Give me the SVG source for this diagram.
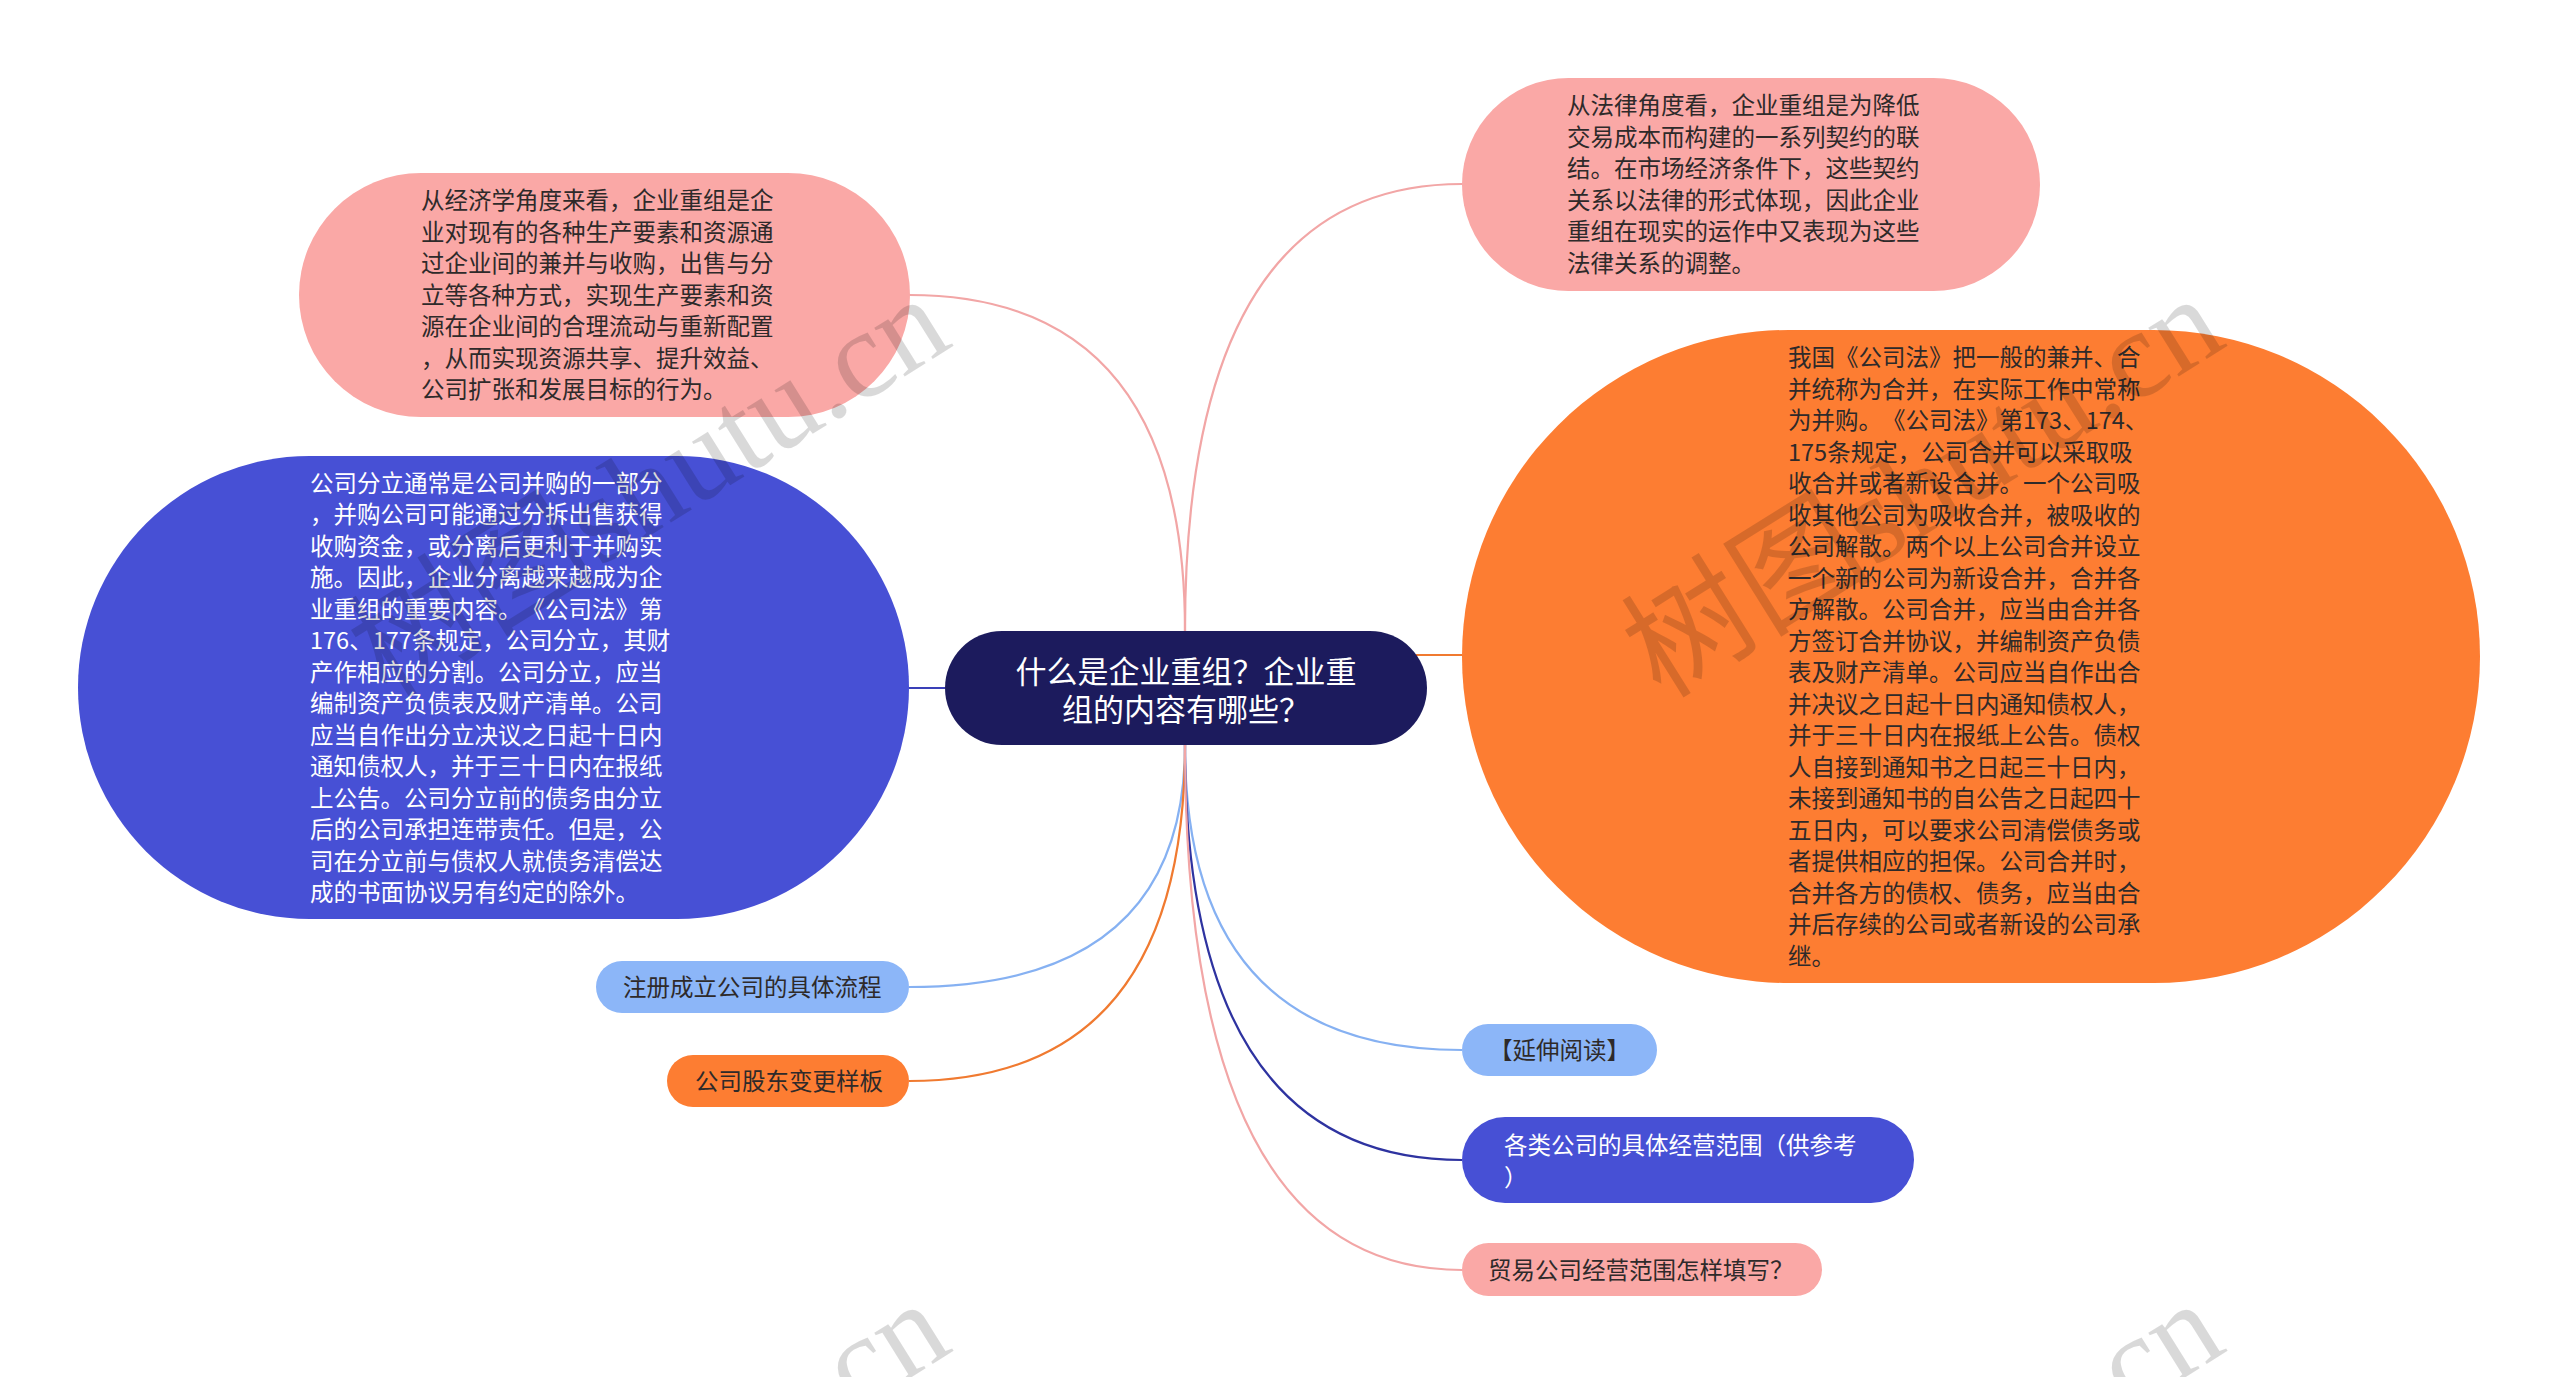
<svg xmlns="http://www.w3.org/2000/svg" width="2560" height="1377" viewBox="0 0 2560 1377">
<style>
.t{font-family:"Noto Sans CJK SC","Liberation Sans",sans-serif;font-size:23.5px;font-feature-settings:"chws" 0,"halt" 0,"palt" 0;text-spacing-trim:space-all;}
.dk{fill:#2e2a2a;}
.wt{fill:#ffffff;}
.title{font-family:"Noto Sans CJK SC","Liberation Sans",sans-serif;font-size:31px;fill:#ffffff;font-feature-settings:"chws" 0;text-spacing-trim:space-all;}
.c{fill:none;stroke-width:2.2;}
.wm{font-family:"Liberation Serif","Noto Sans CJK SC",serif;font-size:125px;fill:#000;fill-opacity:0.15;}
</style>
<rect width="2560" height="1377" fill="#ffffff"/>
<g id="connectors">
<path class="c" stroke="#F2A6A6" d="M909 295 Q1185 295 1185 631"/>
<path class="c" stroke="#F2A6A6" d="M1462 184 Q1185 184 1185 631"/>
<path class="c" stroke="#3A40B8" d="M909 688 L945 688"/>
<path class="c" stroke="#F07A30" d="M1416 655 L1462 655"/>
<path class="c" stroke="#86B1F2" d="M909 987 Q1185 987 1185 745"/>
<path class="c" stroke="#F07A30" d="M909 1081 Q1185 1081 1185 745"/>
<path class="c" stroke="#86B1F2" d="M1462 1050 Q1185 1050 1185 745"/>
<path class="c" stroke="#2E33A0" d="M1462 1160 Q1185 1160 1185 745"/>
<path class="c" stroke="#F2A6A6" d="M1462 1270 Q1185 1270 1185 745"/>
</g>
<g id="node-center">
<rect x="945" y="631" width="482" height="114" rx="57" fill="#1C1B5D"/>
<text class="title" text-anchor="middle"><tspan x="1186" y="683">什么是企业重组？企业重</tspan><tspan x="1186" y="721">组的内容有哪些？</tspan></text>
</g>
<g id="node-econ">
<rect x="299" y="173" width="611" height="244" rx="122" fill="#FAA8A6"/>
<text class="t dk"><tspan x="421" y="209">从经济学角度来看，企业重组是企</tspan><tspan x="421" dy="31.5">业对现有的各种生产要素和资源通</tspan><tspan x="421" dy="31.5">过企业间的兼并与收购，出售与分</tspan><tspan x="421" dy="31.5">立等各种方式，实现生产要素和资</tspan><tspan x="421" dy="31.5">源在企业间的合理流动与重新配置</tspan><tspan x="421" dy="31.5">，从而实现资源共享、提升效益、</tspan><tspan x="421" dy="31.5">公司扩张和发展目标的行为。</tspan></text>
</g>
<g id="node-legal">
<rect x="1462" y="78" width="578" height="213" rx="106.5" fill="#FAA8A6"/>
<text class="t dk"><tspan x="1567" y="114">从法律角度看，企业重组是为降低</tspan><tspan x="1567" dy="31.5">交易成本而构建的一系列契约的联</tspan><tspan x="1567" dy="31.5">结。在市场经济条件下，这些契约</tspan><tspan x="1567" dy="31.5">关系以法律的形式体现，因此企业</tspan><tspan x="1567" dy="31.5">重组在现实的运作中又表现为这些</tspan><tspan x="1567" dy="31.5">法律关系的调整。</tspan></text>
</g>
<g id="node-split">
<rect x="78" y="456" width="831" height="463" rx="231.5" fill="#4750D5"/>
<text class="t wt"><tspan x="310" y="491.5">公司分立通常是公司并购的一部分</tspan><tspan x="310" dy="31.5">，并购公司可能通过分拆出售获得</tspan><tspan x="310" dy="31.5">收购资金，或分离后更利于并购实</tspan><tspan x="310" dy="31.5">施。因此，企业分离越来越成为企</tspan><tspan x="310" dy="31.5">业重组的重要内容。《公司法》第</tspan><tspan x="310" dy="31.5">176、177条规定，公司分立，其财</tspan><tspan x="310" dy="31.5">产作相应的分割。公司分立，应当</tspan><tspan x="310" dy="31.5">编制资产负债表及财产清单。公司</tspan><tspan x="310" dy="31.5">应当自作出分立决议之日起十日内</tspan><tspan x="310" dy="31.5">通知债权人，并于三十日内在报纸</tspan><tspan x="310" dy="31.5">上公告。公司分立前的债务由分立</tspan><tspan x="310" dy="31.5">后的公司承担连带责任。但是，公</tspan><tspan x="310" dy="31.5">司在分立前与债权人就债务清偿达</tspan><tspan x="310" dy="31.5">成的书面协议另有约定的除外。</tspan></text>
</g>
<g id="node-merge">
<rect x="1462" y="330" width="1018" height="653" rx="326.5" fill="#FD7D32"/>
<text class="t dk"><tspan x="1788" y="366">我国《公司法》把一般的兼并、合</tspan><tspan x="1788" dy="31.5">并统称为合并，在实际工作中常称</tspan><tspan x="1788" dy="31.5">为并购。《公司法》第173、174、</tspan><tspan x="1788" dy="31.5">175条规定，公司合并可以采取吸</tspan><tspan x="1788" dy="31.5">收合并或者新设合并。一个公司吸</tspan><tspan x="1788" dy="31.5">收其他公司为吸收合并，被吸收的</tspan><tspan x="1788" dy="31.5">公司解散。两个以上公司合并设立</tspan><tspan x="1788" dy="31.5">一个新的公司为新设合并，合并各</tspan><tspan x="1788" dy="31.5">方解散。公司合并，应当由合并各</tspan><tspan x="1788" dy="31.5">方签订合并协议，并编制资产负债</tspan><tspan x="1788" dy="31.5">表及财产清单。公司应当自作出合</tspan><tspan x="1788" dy="31.5">并决议之日起十日内通知债权人，</tspan><tspan x="1788" dy="31.5">并于三十日内在报纸上公告。债权</tspan><tspan x="1788" dy="31.5">人自接到通知书之日起三十日内，</tspan><tspan x="1788" dy="31.5">未接到通知书的自公告之日起四十</tspan><tspan x="1788" dy="31.5">五日内，可以要求公司清偿债务或</tspan><tspan x="1788" dy="31.5">者提供相应的担保。公司合并时，</tspan><tspan x="1788" dy="31.5">合并各方的债权、债务，应当由合</tspan><tspan x="1788" dy="31.5">并后存续的公司或者新设的公司承</tspan><tspan x="1788" dy="31.5">继。</tspan></text>
</g>
<g id="node-register">
<rect x="596" y="961" width="313" height="52" rx="26" fill="#8CB6F8"/>
<text class="t dk" x="623" y="995.5">注册成立公司的具体流程</text>
</g>
<g id="node-shareholder">
<rect x="667" y="1055" width="242" height="52" rx="26" fill="#FD7D32"/>
<text class="t dk" x="695" y="1089.5">公司股东变更样板</text>
</g>
<g id="node-extend">
<rect x="1462" y="1024" width="195" height="52" rx="26" fill="#8CB6F8"/>
<text class="t dk" x="1489" y="1058.5">【延伸阅读】</text>
</g>
<g id="node-scope">
<rect x="1462" y="1117" width="452" height="86" rx="43" fill="#4750D5"/>
<text class="t wt"><tspan x="1504" y="1153.5">各类公司的具体经营范围（供参考</tspan><tspan x="1504" dy="32">）</tspan></text>
</g>
<g id="node-trade">
<rect x="1462" y="1243" width="360" height="53" rx="26.5" fill="#FAA8A6"/>
<text class="t dk" x="1488" y="1278.5">贸易公司经营范围怎样填写？</text>
</g>
<g id="watermark">
<text class="wm" transform="translate(387 700) rotate(-32)">树图shutu.cn</text>
<text class="wm" transform="translate(1661 700) rotate(-32)">树图shutu.cn</text>
<text class="wm" transform="translate(387 1705) rotate(-32)">树图shutu.cn</text>
<text class="wm" transform="translate(1661 1705) rotate(-32)">树图shutu.cn</text>
</g>
</svg>
